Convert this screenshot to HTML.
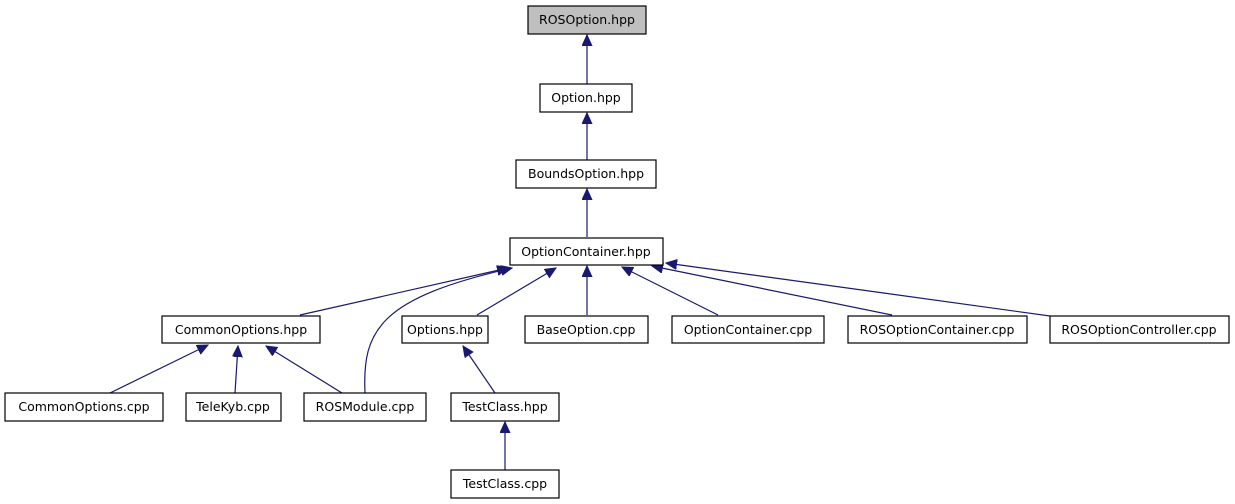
<!DOCTYPE html>
<html><head><meta charset="utf-8"><style>
html,body{margin:0;padding:0;background:#fff;}
svg{display:block;}
text{font-family:"DejaVu Sans","Liberation Sans",sans-serif;font-size:12.5px;fill:#000;text-anchor:middle;}
rect{fill:#fff;stroke:#000;stroke-width:1.2;}
path{fill:none;stroke:#191970;stroke-width:1.2;}
</style></head><body>
<svg width="1235" height="504" viewBox="0 0 1235 504">
<defs><marker id="a" markerUnits="userSpaceOnUse" markerWidth="12" markerHeight="12" refX="11" refY="5" orient="auto"><path d="M0,0 L11,5 L0,10 Z" style="fill:#191970;stroke:#191970;stroke-width:1"/></marker></defs>
<g marker-end="url(#a)">
<path d="M587,84 L587,35" marker-end="url(#a)"/>
<path d="M587,160 L587,113" marker-end="url(#a)"/>
<path d="M587,237 L587,189" marker-end="url(#a)"/>
<path d="M300,315 L508,268" marker-end="url(#a)"/>
<path d="M365,393 C362,330 380,298 512,268" marker-end="url(#a)"/>
<path d="M477,315 L556,268" marker-end="url(#a)"/>
<path d="M587,315 L587,266" marker-end="url(#a)"/>
<path d="M718,315 L622,267" marker-end="url(#a)"/>
<path d="M892,315 L652,266" marker-end="url(#a)"/>
<path d="M1050,316 L666,263" marker-end="url(#a)"/>
<path d="M110,393 L208,345" marker-end="url(#a)"/>
<path d="M235,393 L238,346" marker-end="url(#a)"/>
<path d="M342,393 L266,346" marker-end="url(#a)"/>
<path d="M495,393 L463,346" marker-end="url(#a)"/>
<path d="M505,470 L505,422" marker-end="url(#a)"/>
</g>
<rect x="528" y="6" width="118" height="28" style="fill:#bfbfbf"/><text x="587" y="24">ROSOption.hpp</text>
<rect x="540" y="84" width="92" height="28"/><text x="586" y="102">Option.hpp</text>
<rect x="516" y="160" width="140" height="28"/><text x="586" y="178">BoundsOption.hpp</text>
<rect x="510" y="238" width="153" height="27"/><text x="586" y="256">OptionContainer.hpp</text>
<rect x="162" y="316" width="158" height="27"/><text x="241" y="334">CommonOptions.hpp</text>
<rect x="402" y="316" width="86" height="27"/><text x="445" y="334">Options.hpp</text>
<rect x="525" y="316" width="123" height="27"/><text x="586" y="334">BaseOption.cpp</text>
<rect x="672" y="316" width="152" height="27"/><text x="748" y="334">OptionContainer.cpp</text>
<rect x="848" y="316" width="179" height="27"/><text x="937" y="334">ROSOptionContainer.cpp</text>
<rect x="1050" y="316" width="179" height="27"/><text x="1139" y="334">ROSOptionController.cpp</text>
<rect x="5" y="393" width="158" height="28"/><text x="84" y="411">CommonOptions.cpp</text>
<rect x="186" y="393" width="95" height="28"/><text x="233" y="411">TeleKyb.cpp</text>
<rect x="304" y="393" width="122" height="28"/><text x="365" y="411">ROSModule.cpp</text>
<rect x="451" y="393" width="108" height="28"/><text x="505" y="411">TestClass.hpp</text>
<rect x="451" y="470" width="108" height="28"/><text x="505" y="488">TestClass.cpp</text>
</svg>
</body></html>
